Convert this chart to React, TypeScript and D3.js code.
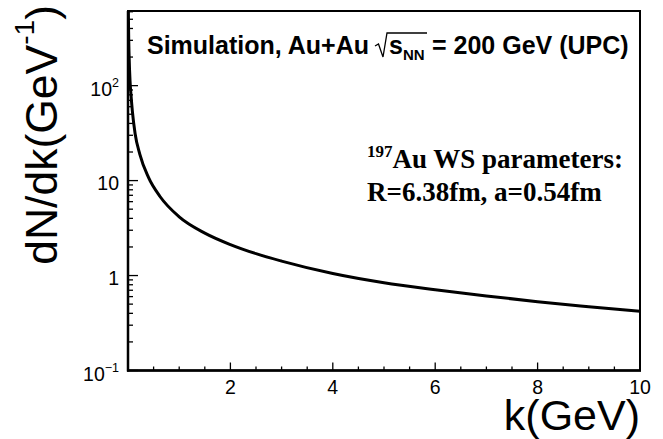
import React from "react";
import * as d3 from "d3";

const kValues = [0.007, 0.01, 0.015, 0.02, 0.03, 0.04, 0.06, 0.085, 0.14, 0.23, 0.4, 0.625, 1.0, 1.5, 2.0, 2.5, 3.0, 4.0, 5.0, 6.0, 7.0, 8.0, 9.0, 10.0];
const dNdk = [600, 430, 290, 220, 148, 112, 78, 54, 31, 19, 10.8, 6.8, 4.15, 2.8, 2.12, 1.7, 1.42, 1.05, 0.84, 0.71, 0.61, 0.53, 0.47, 0.42];

const xMajorTicks = [2, 4, 6, 8, 10];
const xTickLabels = ["2", "4", "6", "8", "10"];
const yMajorTicks = [0.1, 1, 10, 100];
const yTickBase = ["10", "1", "10", "10"];
const yTickSup = ["\u22121", "", "", "2"];

const W = 663, H = 439;
const L = 128, R = 640, T = 11, B = 370.5;

export default function App() {
  const x = d3.scaleLinear().domain([0, 10]).range([L, R]);
  const y = d3.scaleLog().domain([0.1, 611]).range([B, T]);

  const xMinor = d3.range(0, 10.001, 0.5).filter((v) => !xMajorTicks.includes(v) && v > 0 && v < 10);
  const yMinor: number[] = [];
  [0.1, 1, 10, 100].forEach((dec) => {
    for (let m = 2; m <= 9; m++) {
      const v = dec * m;
      if (v <= 611) yMinor.push(v);
    }
  });

  const pts: [number, number][] = kValues.map((k, i) => [x(k), y(dNdk[i])]);
  const line = d3.line().curve(d3.curveMonotoneX)(pts) || "";

  const sans = "'Liberation Sans', Arial, Helvetica, sans-serif";
  const serif = "'Liberation Serif', 'Times New Roman', serif";

  return (
    <svg width={W} height={H} style={{ position: "absolute", left: 0, top: 0, background: "#fff" }}>
      <defs>
        <clipPath id="frameClip">
          <rect x={L} y={T} width={R - L} height={B - T} />
        </clipPath>
      </defs>
      <rect x={0} y={0} width={W} height={H} fill="#fff" />

      {/* curve */}
      <path d={line} fill="none" stroke="#000" strokeWidth={3} clipPath="url(#frameClip)" />

      {/* frame */}
      <rect x={L} y={T} width={R - L} height={B - T} fill="none" stroke="#000" strokeWidth={2} />
      <line x1={L} x2={L} y1={T} y2={B + 1} stroke="#000" strokeWidth={2.5} />
      <line x1={L - 1} x2={R + 1} y1={B} y2={B} stroke="#000" strokeWidth={2.5} />

      {/* x ticks */}
      {xMajorTicks.map((v) => (
        <line key={"xM" + v} x1={x(v)} x2={x(v)} y1={B} y2={B - 8} stroke="#000" strokeWidth={1.3} />
      ))}
      {xMinor.map((v) => (
        <line key={"xm" + v} x1={x(v)} x2={x(v)} y1={B} y2={B - 4} stroke="#000" strokeWidth={1.3} />
      ))}
      {xMajorTicks.map((v, i) => (
        <text key={"xl" + v} x={x(v)} y={394} textAnchor="middle" fontFamily={sans} fontSize={19.5} fill="#000">
          {xTickLabels[i]}
        </text>
      ))}

      {/* y ticks */}
      {yMajorTicks.map((v) => (
        <line key={"yM" + v} x1={L} x2={L + 10} y1={y(v)} y2={y(v)} stroke="#000" strokeWidth={1.3} />
      ))}
      {yMinor.map((v) => (
        <line key={"ym" + v} x1={L} x2={L + 5} y1={y(v)} y2={y(v)} stroke="#000" strokeWidth={1.3} />
      ))}
      {yMajorTicks.map((v, i) => (
        <text key={"yl" + v} x={119} y={y(v) + (yTickSup[i] ? 10.5 : 9)} textAnchor="end" fontFamily={sans} fontSize={19.5} fill="#000">
          <tspan>{yTickBase[i]}</tspan>
          {yTickSup[i] ? (
            <tspan dy={-9.5} fontSize={12.5}>{yTickSup[i]}</tspan>
          ) : null}
        </text>
      ))}

      {/* axis titles */}
      <text x={640} y={430} textAnchor="end" fontFamily={sans} fontSize={43} fill="#000">
        k(GeV)
      </text>
      <text transform="translate(57,5) rotate(-90)" textAnchor="end" fontFamily={sans} fontSize={44.5} fill="#000">
        <tspan>dN/dk(GeV</tspan>
        <tspan dy={-23} fontSize={28}>-1</tspan>
        <tspan dy={23}>)</tspan>
      </text>

      {/* title */}
      <text x={147} y={54} fontFamily={sans} fontWeight="bold" fontSize={25} fill="#000">
        Simulation, Au+Au
      </text>
      <path d="M375,46 L378.5,44 L383,57 L387,33 L427,33" fill="none" stroke="#000" strokeWidth={1.3} />
      <text x={389} y={54} fontFamily={sans} fontWeight="bold" fontSize={25} fill="#000">s</text>
      <text x={403} y={60} fontFamily={sans} fontWeight="bold" fontSize={15} fill="#000">NN</text>
      <text x={432} y={54} fontFamily={sans} fontWeight="bold" fontSize={25} fill="#000">
        = 200 GeV (UPC)
      </text>

      {/* annotation */}
      <text x={367} y={168} fontFamily={serif} fontWeight="bold" fontSize={27} fill="#000">
        <tspan dy={-11} fontSize={17}>197</tspan>
        <tspan dy={11}>Au WS parameters:</tspan>
      </text>
      <text x={367} y={201} fontFamily={serif} fontWeight="bold" fontSize={27} fill="#000">
        R=6.38fm, a=0.54fm
      </text>
    </svg>
  );
}
